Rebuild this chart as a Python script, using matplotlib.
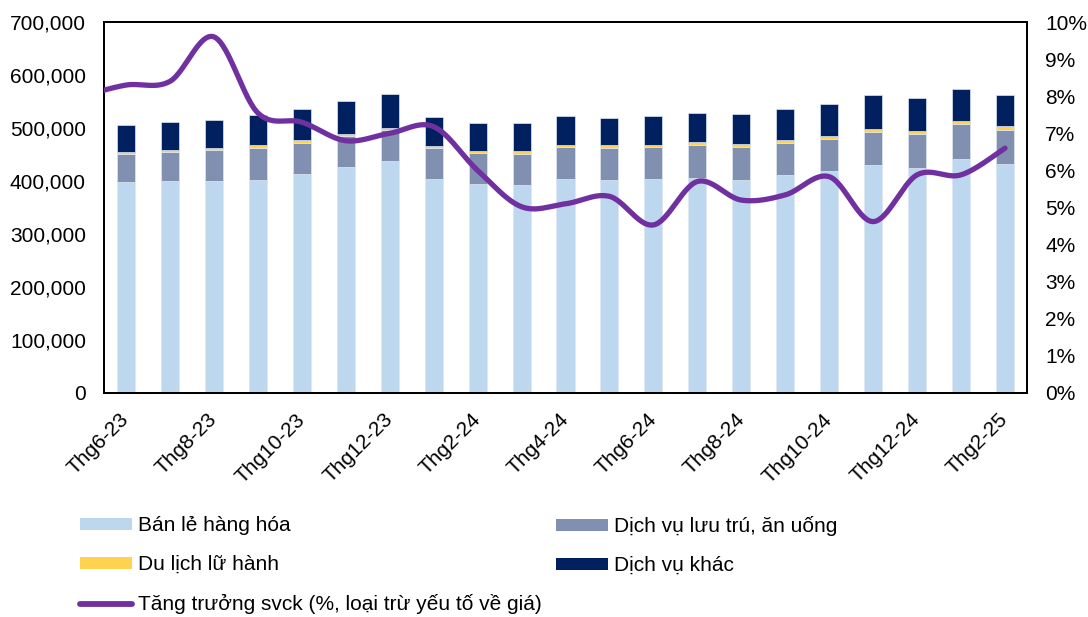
import numpy as np
import matplotlib
matplotlib.use("Agg")
import matplotlib.pyplot as plt
from matplotlib.patches import Patch
from matplotlib.lines import Line2D

plt.rcParams['font.family'] = ['Liberation Sans', 'DejaVu Sans']

# ---------------- data ----------------
months = ["Thg6-23", "Thg7-23", "Thg8-23", "Thg9-23", "Thg10-23", "Thg11-23", "Thg12-23",
          "Thg1-24", "Thg2-24", "Thg3-24", "Thg4-24", "Thg5-24", "Thg6-24", "Thg7-24",
          "Thg8-24", "Thg9-24", "Thg10-24", "Thg11-24", "Thg12-24", "Thg1-25", "Thg2-25"]
tick_labels = months[::2]

retail = [398000, 400000, 400000, 402000, 413000, 426000, 438000, 404000, 394000, 392500,
          403000, 402500, 404000, 406000, 402500, 411000, 419000, 430000, 424000, 441500, 433000]
accommodation = [53400, 55300, 57900, 61000, 59000, 58500, 58500, 58400, 59600, 59000,
                 60400, 60300, 59800, 61000, 61700, 61000, 60400, 62800, 65300, 66600, 64000]
travel = [3800, 3800, 4400, 4600, 4500, 3800, 3200, 3800, 3800, 4500,
          4900, 4600, 4300, 6000, 5500, 5000, 5100, 5700, 5000, 5100, 6500]
other = [50500, 52800, 52200, 56400, 59400, 62600, 65000, 55100, 52000, 52900,
         53800, 52100, 54500, 54700, 57300, 58200, 60800, 63200, 62900, 59800, 58200]

# growth line (first value = Thg5-23, just outside the plotted range)
growth_months = ["Thg5-23"] + months
growth = [8.0, 8.3, 8.4, 9.6, 7.55, 7.3, 6.8, 7.0, 7.18, 6.0, 5.02, 5.1, 5.3, 4.53,
          5.7, 5.2, 5.34, 5.83, 4.62, 5.88, 5.88, 6.6]

labels = ["Bán lẻ hàng hóa", "Dịch vụ lưu trú, ăn uống", "Du lịch lữ hành", "Dịch vụ khác",
          "Tăng trưởng svck (%, loại trừ yếu tố về giá)"]
colors = ["#BDD7EE", "#8190B0", "#FFD34F", "#002060"]
line_color = "#7030A0"

# ---------------- helpers ----------------
def smooth(xs, ys, n=30):
    xs = np.asarray(xs, float); ys = np.asarray(ys, float)
    px = np.concatenate([[xs[0]], xs, [xs[-1]]])
    py = np.concatenate([[ys[0]], ys, [ys[-1]]])
    outx, outy = [], []
    t = np.linspace(0, 1, n)
    for i in range(1, len(px) - 2):
        p0x, p1x, p2x, p3x = px[i-1], px[i], px[i+1], px[i+2]
        p0y, p1y, p2y, p3y = py[i-1], py[i], py[i+1], py[i+2]
        c1x = p1x + (p2x - p0x) / 6; c1y = p1y + (p2y - p0y) / 6
        c2x = p2x - (p3x - p1x) / 6; c2y = p2y - (p3y - p1y) / 6
        bx = (1-t)**3*p1x + 3*(1-t)**2*t*c1x + 3*(1-t)*t**2*c2x + t**3*p2x
        by = (1-t)**3*p1y + 3*(1-t)**2*t*c1y + 3*(1-t)*t**2*c2y + t**3*p2y
        outx.append(bx); outy.append(by)
    return np.concatenate(outx), np.concatenate(outy)

# ---------------- figure ----------------
W, H = 1088, 617
fig = plt.figure(figsize=(W/100, H/100), dpi=100)
ax = fig.add_axes([104/W, 1 - 393/H, (1027-104)/W, (393-22)/H])

x = np.arange(len(months))
bw = 0.41
bottom = np.zeros(len(months))
for vals, c in zip([retail, accommodation, travel, other], colors):
    ax.bar(x, vals, bw, bottom=bottom, color=c, edgecolor="#DCE6F2", linewidth=0.5, zorder=2)
    bottom += np.array(vals)

ax.set_xlim(-0.5, len(months) - 0.5)
ax.set_ylim(0, 700000)
ax.set_yticks(np.arange(0, 700001, 100000))
ax.set_yticklabels([f"{v:,}" for v in range(0, 700001, 100000)])
ax.set_xticks(x[::2])
ax.set_xticklabels(tick_labels, rotation=45, ha="right", va="center", rotation_mode="anchor")
ax.tick_params(axis="both", length=0, labelsize=15, colors="black")
ax.tick_params(axis="y", pad=13)
ax.tick_params(axis="x", pad=17)
for s in ax.spines.values():
    s.set_linewidth(1.4)
    s.set_color("black")

ax2 = ax.twinx()
gx = np.arange(-1, len(months))
sx, sy = smooth(gx, growth)
ax2.plot(sx, sy, color=line_color, linewidth=3.8, solid_capstyle="round", zorder=3)
ax2.set_ylim(0, 10)
ax2.set_yticks(np.arange(0, 11, 1))
ax2.set_yticklabels([f"{v}%" for v in range(0, 11)])
ax2.tick_params(axis="y", length=0, labelsize=15, pad=13)
ax2.set_xlim(-0.5, len(months) - 0.5)
for s in ax2.spines.values():
    s.set_linewidth(1.4)
    s.set_color("black")

# ---------------- legend ----------------
h_retail = Patch(facecolor=colors[0], edgecolor="none")
h_acc = Patch(facecolor=colors[1], edgecolor="none")
h_trav = Patch(facecolor=colors[2], edgecolor="none")
h_oth = Patch(facecolor=colors[3], edgecolor="none")
h_line = Line2D([0], [0], color=line_color, linewidth=4.2, solid_capstyle="round")

common = dict(frameon=False, fontsize=15, handlelength=2.5, handleheight=0.52,
              handletextpad=0.3, labelspacing=0.97, borderpad=0, borderaxespad=0,
              loc="upper left")
leg1 = fig.legend([h_retail, h_trav, h_line], [labels[0], labels[2], labels[4]],
                  bbox_to_anchor=(80/W, 1 - 516/H), **common)
leg2 = fig.legend([h_acc, h_oth], [labels[1], labels[3]],
                  bbox_to_anchor=(556/W, 1 - 516/H), **common)

fig.savefig("out.png", dpi=100)
